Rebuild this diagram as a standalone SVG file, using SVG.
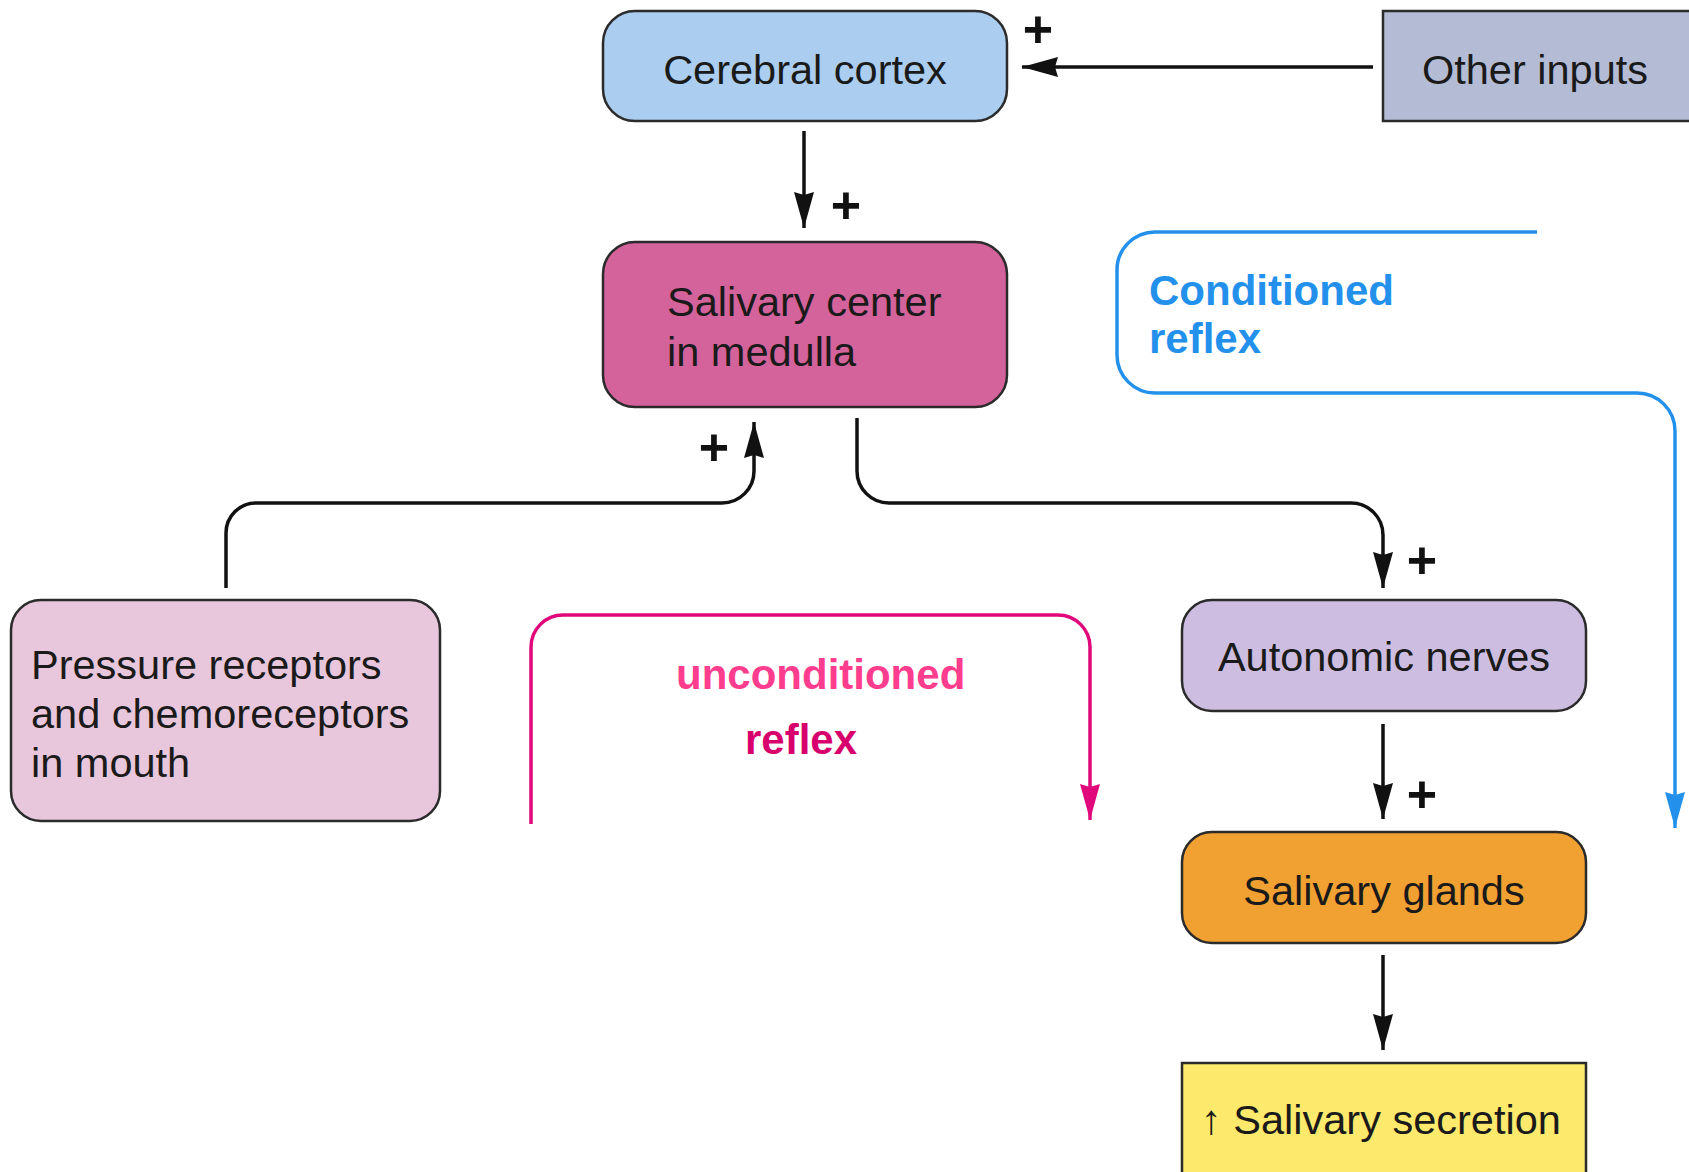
<svg xmlns="http://www.w3.org/2000/svg" width="1689" height="1172" viewBox="0 0 1689 1172">
<defs>
<style>
.box{stroke:#2b2b2b;stroke-width:2.5}
.lbl{font-family:"Liberation Sans",Arial,sans-serif;font-size:41.5px;fill:#1a1a1a}
.plus{font-family:"Liberation Sans",Arial,sans-serif;font-size:52px;font-weight:bold;fill:#111;text-anchor:middle}
.conn{fill:none;stroke:#111;stroke-width:3.5}
.pink{fill:none;stroke:#e0087a;stroke-width:3.5}
.blue{fill:none;stroke:#2391ec;stroke-width:3.5}
.refl{font-family:"Liberation Sans",Arial,sans-serif;font-size:42px;font-weight:bold}
</style>
<marker id="ah" markerUnits="userSpaceOnUse" markerWidth="40" markerHeight="24" refX="36" refY="10" orient="auto">
<path d="M0,0 L36,10 L0,20 L3,10 Z" fill="#111"/>
</marker>
<marker id="ahp" markerUnits="userSpaceOnUse" markerWidth="40" markerHeight="24" refX="36" refY="10" orient="auto">
<path d="M0,0 L36,10 L0,20 L3,10 Z" fill="#e0087a"/>
</marker>
<marker id="ahb" markerUnits="userSpaceOnUse" markerWidth="40" markerHeight="24" refX="36" refY="10" orient="auto">
<path d="M0,0 L36,10 L0,20 L3,10 Z" fill="#2391ec"/>
</marker>
</defs>
<rect width="1689" height="1172" fill="#ffffff"/>

<g id="connectors">
<path class="conn" d="M1373,67 L1022,67" marker-end="url(#ah)"/>
<path class="conn" d="M804,131 L804,228" marker-end="url(#ah)"/>
<path class="conn" d="M226,588 V533 A30,30 0 0 1 256,503 H722 A32,32 0 0 0 754,471 V422" marker-end="url(#ah)"/>
<path class="conn" d="M857,418 V471 A32,32 0 0 0 889,503 H1351 A32,32 0 0 1 1383,535 V588" marker-end="url(#ah)"/>
<path class="conn" d="M1383,724 L1383,819" marker-end="url(#ah)"/>
<path class="conn" d="M1383,955 L1383,1050" marker-end="url(#ah)"/>
<path class="pink" d="M531,824 V647 A32,32 0 0 1 563,615 H1058 A32,32 0 0 1 1090,647 V820" marker-end="url(#ahp)"/>
<path class="blue" d="M1537,232 H1155 A38,38 0 0 0 1117,270 V355 A38,38 0 0 0 1155,393 H1637 A38,38 0 0 1 1675,431 V828" marker-end="url(#ahb)"/>
<text class="plus" x="1038" y="47">+</text>
<text class="plus" x="846" y="223">+</text>
<text class="plus" x="714" y="465">+</text>
<text class="plus" x="1422" y="578">+</text>
<text class="plus" x="1422" y="812">+</text>
<text class="refl" x="676" y="689" fill="#ff3d8e">unconditioned</text>
<text class="refl" x="745" y="754" fill="#d8006c">reflex</text>
<text class="refl" x="1149" y="305" fill="#2391ec">Conditioned</text>
<text class="refl" x="1149" y="353" fill="#2391ec">reflex</text>
</g>

<g id="cortex">
<rect class="box" x="603" y="11" width="404" height="110" rx="32" fill="#abcdef"/>
<text class="lbl" x="805" y="84" text-anchor="middle">Cerebral cortex</text>
</g>

<g id="other-inputs">
<rect class="box" x="1383" y="11" width="320" height="110" fill="#b4bcd5"/>
<text class="lbl" x="1535" y="84" text-anchor="middle">Other inputs</text>
</g>

<g id="salivary-center">
<rect class="box" x="603" y="242" width="404" height="165" rx="32" fill="#d4629b"/>
<text class="lbl" x="667" y="316">Salivary center</text>
<text class="lbl" x="667" y="366">in medulla</text>
</g>

<g id="receptors">
<rect class="box" x="11" y="600" width="429" height="221" rx="30" fill="#e8c7dc"/>
<text class="lbl" x="31" y="679">Pressure receptors</text>
<text class="lbl" x="31" y="728">and chemoreceptors</text>
<text class="lbl" x="31" y="777">in mouth</text>
</g>

<g id="autonomic">
<rect class="box" x="1182" y="600" width="404" height="111" rx="30" fill="#cdbee1"/>
<text class="lbl" x="1384" y="671" text-anchor="middle">Autonomic nerves</text>
</g>

<g id="glands">
<rect class="box" x="1182" y="832" width="404" height="111" rx="30" fill="#f1a032"/>
<text class="lbl" x="1384" y="905" text-anchor="middle">Salivary glands</text>
</g>

<g id="secretion">
<rect class="box" x="1182" y="1063" width="404" height="140" fill="#fde96b"/>
<text class="lbl" x="1201" y="1134">↑ Salivary secretion</text>
</g>
</svg>
